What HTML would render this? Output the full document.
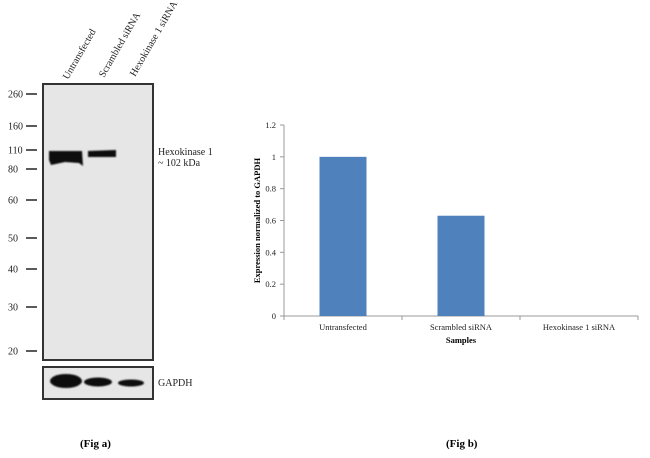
<!DOCTYPE html>
<html><head><meta charset="utf-8"><style>
body{margin:0;background:#fff;width:650px;height:458px;overflow:hidden;font-family:"Liberation Serif",serif}
svg{display:block}
</style></head><body>
<svg width="650" height="458">
<defs><filter id="bl"><feGaussianBlur stdDeviation="0.8"/></filter></defs>
<g>
<rect x="43" y="84" width="110" height="276" fill="#e6e6e6" stroke="#333" stroke-width="2"/>
<rect x="43" y="367" width="110" height="32" fill="#e6e6e6" stroke="#333" stroke-width="2"/>
<g filter="url(#bl)" fill="#0b0b0b">
<path d="M49,151 L82,151 L83,166 L79,163 L65,162 L51,165 L49,160Z"/>
<path d="M88,151 L116,150 L116,157 L88,157Z"/>
<ellipse cx="66" cy="381" rx="16" ry="7"/>
<ellipse cx="98" cy="382" rx="14" ry="4.5"/>
<ellipse cx="131" cy="383" rx="13" ry="3.5"/>
</g>
<g font-size="10" fill="#222" id="markers"></g>
<g font-size="10" fill="#222">
<text transform="translate(68,80) rotate(-60)">Untransfected</text>
<text transform="translate(104,78) rotate(-60)">Scrambled siRNA</text>
<text transform="translate(135,77) rotate(-60)">Hexokinase 1 siRNA</text>
<text x="158" y="155">Hexokinase 1</text>
<text x="158" y="166">~ 102 kDa</text>
<text x="158" y="386">GAPDH</text>
</g>
</g>
<g id="chart"></g>
<text x="80" y="447" font-size="11" font-weight="bold">(Fig a)</text>
<text x="446" y="447" font-size="11" font-weight="bold">(Fig b)</text>
</svg>
<script>
const markerLabels=["260","160","110","80","60","50","40","30","20"];
const markerY=[94,126,150,169,200,238,269,307,351];
const categories=["Untransfected","Scrambled siRNA","Hexokinase 1 siRNA"];
const values=[1,0.63,0];
const yTicks=[0,0.2,0.4,0.6,0.8,1,1.2];
const NS="http://www.w3.org/2000/svg";
function mk(p,t,a){const e=document.createElementNS(NS,t);for(const k in a)e.setAttribute(k,a[k]);p.appendChild(e);return e;}
const mg=document.getElementById('markers');
markerLabels.forEach((l,i)=>{
 const t=mk(mg,'text',{x:8,y:markerY[i]+3.5});t.textContent=l;
 
 
 const ln=mk(mg,'line',{x1:26,x2:37,y1:markerY[i],y2:markerY[i],stroke:'#222','stroke-width':1.5});
 
 
});
const g=document.getElementById('chart');
const X0=284,catW=118,Y0=316,Y1=125,yMax=1.2;
const y=v=>Y0-(v/yMax)*(Y0-Y1);
const xc=i=>X0+catW*(i+0.5);
const ax=mk(g,'line',{x1:X0,x2:X0,y1:Y1,y2:Y0,stroke:'#999'});


const xa=mk(g,'line',{x1:X0,x2:X0+catW*3,y1:Y0,y2:Y0,stroke:'#999'});


yTicks.forEach(v=>{
 mk(g,'line',{x1:X0-4,x2:X0,y1:y(v),y2:y(v),stroke:'#999'});
 const t=mk(g,'text',{x:X0-8,y:y(v)+3,'font-size':8.5,'text-anchor':'end',fill:'#222'});t.textContent=String(v);
 
 
});
for(let i=0;i<=3;i++)mk(g,'line',{x1:X0+catW*i,x2:X0+catW*i,y1:Y0,y2:Y0+4,stroke:'#999'});
categories.forEach((c,i)=>{
 const b=mk(g,'rect',{x:xc(i)-23.5,y:y(values[i]),width:47,height:Y0-y(values[i]),fill:'#4f81bd'});
 
 
 const t=mk(g,'text',{x:xc(i),y:Y0+14,'font-size':8.5,'text-anchor':'middle',fill:'#222'});t.textContent=c;
 
 
});
const xt=mk(g,'text',{x:X0+catW*1.5,y:Y0+27,'font-size':8.5,'font-weight':'bold','text-anchor':'middle'});xt.textContent='Samples';


const yt=mk(g,'text',{transform:'translate(260,'+((Y0+Y1)/2)+') rotate(-90)','font-size':8.5,'font-weight':'bold','text-anchor':'middle'});yt.textContent='Expression normalized to GAPDH';


</script>
</body></html>
